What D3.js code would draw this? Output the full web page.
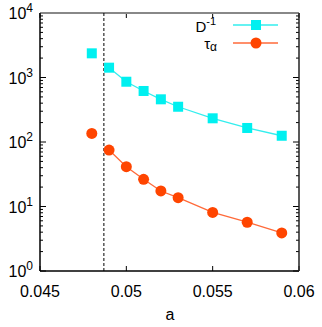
<!DOCTYPE html>
<html>
<head>
<meta charset="utf-8">
<script src="https://cdn.jsdelivr.net/npm/d3@7"></script>
<style>
  body { margin: 0; background: #fff; }
  text { font-family: "Liberation Sans", Arial, sans-serif; }
</style>
</head>
<body>
<div id="chart"></div>
<script>
// values
const aVals = [0.048, 0.049, 0.050, 0.051, 0.052, 0.053, 0.055, 0.057, 0.059];
const invD = [2370, 1420, 860, 618, 459, 352, 233, 165, 125];
const tauAlpha = [136, 75, 41.4, 26.4, 17.4, 13.7, 8.1, 5.7, 3.9];
const xTicks = [0.045, 0.05, 0.055, 0.06];
const xTickLabels = ["0.045", "0.05", "0.055", "0.06"];
const yDecades = [0, 1, 2, 3, 4];
const aCritical = 0.0487;

const width = 322, height = 327;
const margin = { left: 40, top: 13, right: 23, bottom: 56 };

const svg = d3.select("#chart").append("svg")
    .attr("width", width)
    .attr("height", height);

const x = d3.scaleLinear().domain([0.045, 0.06]).range([margin.left, width - margin.right]);
const y = d3.scaleLog().domain([1, 1e4]).range([height - margin.bottom, margin.top]);

const x0 = margin.left, x1 = width - margin.right;
const y0 = height - margin.bottom, y1 = margin.top;

// minor ticks on both sides
const minors = [];
for (let d = 0; d < 4; d++) {
    for (let k = 2; k <= 9; k++) minors.push(k * Math.pow(10, d));
}
svg.selectAll("line.minor").data(minors).enter().append("line")
    .attr("x1", x0).attr("x2", x0 + 3)
    .attr("y1", d => y(d)).attr("y2", d => y(d))
    .attr("stroke", "#000");
svg.selectAll("line.minorR").data(minors).enter().append("line")
    .attr("x1", x1).attr("x2", x1 - 3)
    .attr("y1", d => y(d)).attr("y2", d => y(d))
    .attr("stroke", "#000");
svg.selectAll("line.major").data(yDecades).enter().append("line")
    .attr("x1", x0).attr("x2", x0 + 6)
    .attr("y1", d => y(Math.pow(10, d))).attr("y2", d => y(Math.pow(10, d)))
    .attr("stroke", "#000");
svg.selectAll("line.majorR").data(yDecades).enter().append("line")
    .attr("x1", x1).attr("x2", x1 - 6)
    .attr("y1", d => y(Math.pow(10, d))).attr("y2", d => y(Math.pow(10, d)))
    .attr("stroke", "#000");

// x ticks top and bottom
svg.selectAll("line.xt").data(xTicks).enter().append("line")
    .attr("x1", d => x(d)).attr("x2", d => x(d))
    .attr("y1", y0).attr("y2", y0 - 5)
    .attr("stroke", "#000");
svg.selectAll("line.xtt").data(xTicks).enter().append("line")
    .attr("x1", d => x(d)).attr("x2", d => x(d))
    .attr("y1", y1).attr("y2", y1 + 5)
    .attr("stroke", "#000");

// frame
svg.append("line").attr("x1", x0).attr("x2", x1).attr("y1", y1).attr("y2", y1)
    .attr("stroke", "#888").attr("stroke-width", 2);
svg.append("line").attr("x1", x0).attr("x2", x0).attr("y1", y1).attr("y2", y0)
    .attr("stroke", "#000").attr("stroke-width", 1.5);
svg.append("line").attr("x1", x0).attr("x2", x1).attr("y1", y0).attr("y2", y0)
    .attr("stroke", "#000").attr("stroke-width", 1.5);
svg.append("line").attr("x1", x1).attr("x2", x1).attr("y1", y1).attr("y2", y0)
    .attr("stroke", "#222").attr("stroke-width", 1.5);

// y tick labels 10^n
const ylab = svg.selectAll("text.ylab").data(yDecades).enter().append("text")
    .attr("x", 33)
    .attr("y", d => y(Math.pow(10, d)) + 6)
    .attr("text-anchor", "end")
    .attr("font-size", 16);
ylab.append("tspan").text("10");
ylab.append("tspan").attr("dy", -7).attr("font-size", 12).text(d => d);

// x tick labels
svg.selectAll("text.xlab").data(xTicks).enter().append("text")
    .attr("x", d => x(d))
    .attr("y", 297)
    .attr("text-anchor", "middle")
    .attr("font-size", 16)
    .text((d, i) => xTickLabels[i]);

svg.append("text")
    .attr("x", 170).attr("y", 320)
    .attr("text-anchor", "middle")
    .attr("font-size", 16)
    .text("a");

// dashed vertical line
svg.append("line")
    .attr("x1", x(aCritical)).attr("x2", x(aCritical))
    .attr("y1", y1).attr("y2", y0)
    .attr("stroke", "#000")
    .attr("stroke-dasharray", "3,2");

const cyan = "#00f0f0", cyanLine = "#33eeee";
const orange = "#ff4500", orangeLine = "#ff6a3a";

const ptsD = aVals.map((a, i) => [a, invD[i]]);
const ptsT = aVals.map((a, i) => [a, tauAlpha[i]]);
const line = d3.line().x(d => x(d[0])).y(d => y(d[1]));

// first point is not connected
svg.append("path").datum(ptsD.slice(1))
    .attr("d", line).attr("fill", "none")
    .attr("stroke", cyanLine).attr("stroke-width", 1.3);
svg.append("path").datum(ptsT.slice(1))
    .attr("d", line).attr("fill", "none")
    .attr("stroke", orangeLine).attr("stroke-width", 1.3);

const sq = 10;
svg.selectAll("rect.d").data(ptsD).enter().append("rect")
    .attr("x", d => x(d[0]) - sq / 2)
    .attr("y", d => y(d[1]) - sq / 2)
    .attr("width", sq).attr("height", sq)
    .attr("fill", cyan);
svg.selectAll("circle.t").data(ptsT).enter().append("circle")
    .attr("cx", d => x(d[0]))
    .attr("cy", d => y(d[1]))
    .attr("r", 5.5)
    .attr("fill", orange);

// legend
const lx1 = 233, lx2 = 278, lm = 256;
svg.append("line").attr("x1", lx1).attr("x2", lx2).attr("y1", 25).attr("y2", 25)
    .attr("stroke", cyanLine).attr("stroke-width", 1.3);
svg.append("rect").attr("x", lm - sq / 2).attr("y", 25 - sq / 2)
    .attr("width", sq).attr("height", sq).attr("fill", cyan);
svg.append("line").attr("x1", lx1).attr("x2", lx2).attr("y1", 43).attr("y2", 43)
    .attr("stroke", orangeLine).attr("stroke-width", 1.3);
svg.append("circle").attr("cx", lm).attr("cy", 43).attr("r", 5.5).attr("fill", orange);

const dl = svg.append("text").attr("x", 216).attr("y", 32)
    .attr("text-anchor", "end").attr("font-size", 15);
dl.append("tspan").text("D");
dl.append("tspan").attr("dy", -7).attr("font-size", 11).text("-1");

const tl = svg.append("text").attr("x", 217).attr("y", 49)
    .attr("text-anchor", "end").attr("font-size", 15);
tl.append("tspan").text("τ");
tl.append("tspan").attr("dy", 2).attr("font-size", 12).text("α");
</script>
</body>
</html>
